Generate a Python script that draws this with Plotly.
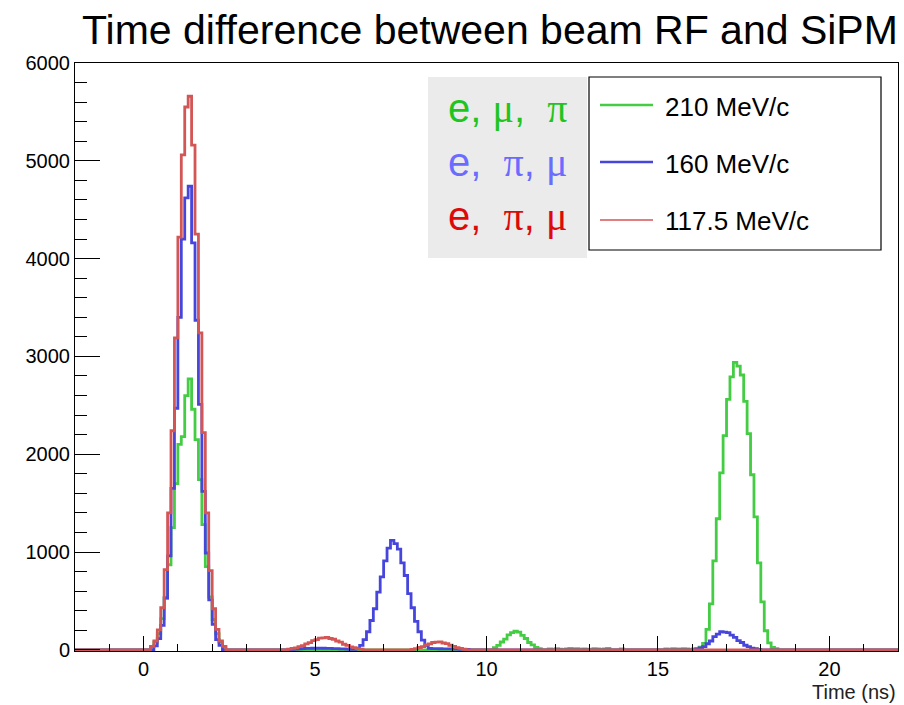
import numpy as np
import plotly.graph_objects as go

# ---------------- data (histogram bin contents, bin width 0.1 ns) ----------------
BIN_WIDTH = 0.1
X_MIN, X_MAX = -2.0, 22.0

series_names = ["210 MeV/c", "160 MeV/c", "117.5 MeV/c"]
particle_labels = ["e,\u00a0μ,\u00a0\u00a0π", "e,\u00a0\u00a0π,\u00a0μ", "e,\u00a0\u00a0π,\u00a0μ"]

# green: 210 MeV/c  (segments: start edge, counts)
green_p1_start = 0.2
green_p1 = [30, 80, 165, 320, 530, 870, 1250, 1700, 2100, 2180, 2600, 2770,
            2460, 2150, 1740, 1280, 850, 540, 310, 165, 80, 30]
green_p2_start = 10.2
green_p2 = [22, 45, 80, 110, 152, 175, 190, 180, 148, 116, 75, 50, 24, 12]
green_low1_start = 11.7
green_low1 = [0, 10, 0, 12, 8, 0, 10, 14, 10, 12, 0, 10, 8, 0, 12, 10, 0, 10, 14, 0, 0, 0, 10, 0]
green_low2_start = 15.2
green_low2 = [10, 0, 12, 10, 8, 12, 10, 0, 10]
green_p3_start = 16.1
green_p3 = [15, 28, 65, 210, 470, 910, 1340, 1810, 2190, 2560, 2790, 2940,
            2900, 2810, 2540, 2210, 1790, 1360, 890, 490, 195, 72, 24, 12]

# blue: 160 MeV/c
blue_p1_start = 0.3
blue_p1 = [40, 115, 250, 530, 960, 1650, 2470, 3400, 4200, 4620,
           4740, 4160, 3370, 2510, 1620, 990, 510, 260, 105, 45]
blue_low1_start = 4.3
blue_low1 = [5, 8, 10, 12, 14, 15, 16, 16, 17, 16, 15, 14, 13, 12, 10, 9, 8, 6, 5]
blue_p2_start = 6.2
blue_p2 = [15, 45, 105, 185, 300, 420, 590, 745, 910, 1040, 1120,
           1085, 1030, 890, 760, 575, 430, 290, 185, 100, 45, 15]
blue_low2_start = 8.4
blue_low2 = [12, 12, 11, 10, 10, 9, 8, 7, 6, 5, 4]
blue_p3_start = 16.1
blue_p3 = [8, 20, 32, 62, 90, 135, 160, 185, 180, 175, 150, 128, 95, 75, 47, 33, 18, 12, 5]

# red: 117.5 MeV/c
red_p1_start = 0.2
red_p1 = [35, 90, 205, 430, 820, 1400, 2240, 3190, 4220, 5060, 5550,
          5660, 5160, 4250, 3240, 2220, 1400, 810, 420, 210, 90, 35]
red_p2_start = 4.2
red_p2 = [8, 14, 20, 33, 42, 60, 74, 95, 104, 120, 122,
          127, 116, 108, 90, 78, 57, 45, 30, 22, 12, 7]
red_p3_start = 7.8
red_p3 = [5, 12, 24, 33, 50, 60, 75, 78, 82, 70, 64, 47, 36, 22, 14, 6]

colors = ["#44cc44", "#4646dc", "#d35656"]
text_colors = ["#1fc41f", "#6b6bff", "#dd0a0a"]

# ---------------- build step histograms ----------------
n_bins = int(round((X_MAX - X_MIN) / BIN_WIDTH))
edges = X_MIN + BIN_WIDTH * np.arange(n_bins + 1)


def build(segments):
    vals = np.zeros(n_bins)
    for start, counts in segments:
        i0 = int(round((start - X_MIN) / BIN_WIDTH))
        vals[i0:i0 + len(counts)] = counts
    return np.append(vals, vals[-1])


hists = [
    build([(green_p1_start, green_p1), (green_p2_start, green_p2),
           (green_low1_start, green_low1), (green_low2_start, green_low2),
           (green_p3_start, green_p3)]),
    build([(blue_p1_start, blue_p1), (blue_low1_start, blue_low1),
           (blue_p2_start, blue_p2), (blue_low2_start, blue_low2),
           (blue_p3_start, blue_p3)]),
    build([(red_p1_start, red_p1), (red_p2_start, red_p2), (red_p3_start, red_p3)]),
]

fig = go.Figure()
for name, y, c in zip(series_names, hists, colors):
    fig.add_trace(go.Scatter(x=edges, y=y, mode="lines", name=name,
                             line=dict(color=c, width=2.8, shape="hv"),
                             showlegend=False, hoverinfo="x+y"))

FONT = "Liberation Sans, Arial, Helvetica, sans-serif"

# plot area in pixels: x 75..898, y 63..651
L, R, T, B = 75, 898, 63, 651
W, H = 904, 705


def px(xp):
    return (xp - L) / (R - L)


def py(yp):
    return (B - yp) / (B - T)


fig.update_layout(
    width=W, height=H,
    margin=dict(l=L, r=W - R, t=T, b=H - B),
    paper_bgcolor="white", plot_bgcolor="white",
    font=dict(family=FONT, color="black"),
    xaxis=dict(range=[X_MIN, X_MAX], showgrid=False, zeroline=False,
               showline=True, linecolor="black", linewidth=1, mirror=True,
               ticks="inside", ticklen=15, tickwidth=1, tickcolor="black",
               tick0=0, dtick=5, tickfont=dict(size=20, family=FONT),
               ticklabelstandoff=0,
               minor=dict(ticks="inside", ticklen=7, dtick=1, tickcolor="black", tickwidth=1)),
    yaxis=dict(range=[-12, 6000], showgrid=False, zeroline=False,
               showline=True, linecolor="black", linewidth=1, mirror=True,
               ticks="inside", ticklen=25, tickwidth=1, tickcolor="black",
               tick0=0, dtick=1000, tickfont=dict(size=20, family=FONT),
               minor=dict(ticks="inside", ticklen=12, dtick=200, tickcolor="black", tickwidth=1)),
)

shapes = []
annotations = []

# title
annotations.append(dict(text="Time difference between beam RF and SiPM", xref="paper", yref="paper",
                        x=px(490), y=py(30), xanchor="center", yanchor="middle", showarrow=False,
                        font=dict(size=41, family=FONT, color="black")))
# x axis title
annotations.append(dict(text="Time (ns)", xref="paper", yref="paper",
                        x=px(898), y=py(692), xanchor="right", yanchor="middle", showarrow=False,
                        font=dict(size=20, family=FONT, color="#222222")))

# grey particle box
shapes.append(dict(type="rect", xref="paper", yref="paper", x0=px(428), x1=px(587),
                   y0=py(258), y1=py(77), fillcolor="#ebebeb", line=dict(width=0), layer="above"))
rows_text_y = [108, 162, 216]
for lab, tc, yy in zip(particle_labels, text_colors, rows_text_y):
    parts = lab.split(",")
    html = parts[0] + "," + ",".join(
        "".join(f"<span style='font-family:Liberation Serif, Times New Roman, serif'>{ch}</span>"
                if ch in "μπ" else ch for ch in p) for p in parts[1:])
    annotations.append(dict(text=html, xref="paper", yref="paper", x=px(507), y=py(yy),
                            xanchor="center", yanchor="middle", showarrow=False,
                            font=dict(size=40, family=FONT, color=tc)))

# legend box
shapes.append(dict(type="rect", xref="paper", yref="paper", x0=px(589), x1=px(881),
                   y0=py(250), y1=py(77), fillcolor="white", line=dict(color="black", width=1.2),
                   layer="above"))
sample_y = [105, 162, 220]
label_y = [107, 164, 221]
sample_w = [2.6, 2.6, 1.6]
for name, c, sy, ly, sw in zip(series_names, colors, sample_y, label_y, sample_w):
    shapes.append(dict(type="line", xref="paper", yref="paper", x0=px(600), x1=px(653),
                       y0=py(sy), y1=py(sy), line=dict(color=c, width=sw), layer="above"))
    annotations.append(dict(text=name, xref="paper", yref="paper", x=px(663), y=py(ly),
                            xanchor="left", yanchor="middle", showarrow=False,
                            font=dict(size=26, family=FONT, color="black")))

fig.update_layout(shapes=shapes, annotations=annotations)
fig.write_html("out.html")
